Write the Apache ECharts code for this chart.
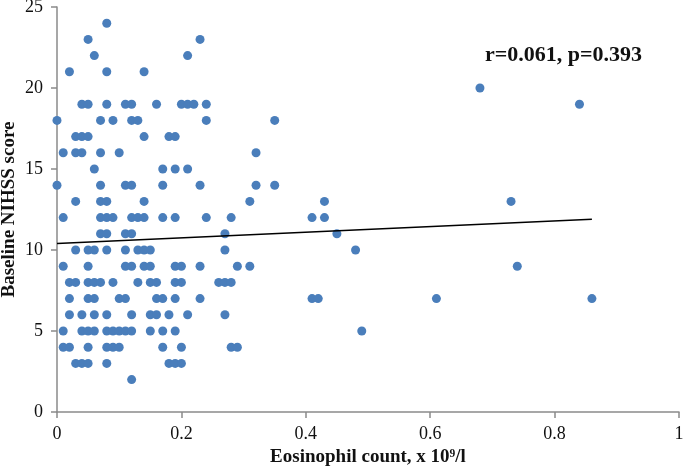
<!DOCTYPE html>
<html><head><meta charset="utf-8">
<script src="https://cdn.jsdelivr.net/npm/echarts@6/dist/echarts.min.js"></script>
<style>html,body{margin:0;padding:0;background:#fff}#c{width:685px;height:472px}</style>
</head><body><div id="c"></div>
<script>
// Eosinophil count (x) and Baseline NIHSS score (y), one entry per patient
const eosinophil = [
  0.08,
  0.05,0.23,
  0.06,0.21,
  0.02,0.08,0.14,
  0.68,
  0.04,0.05,0.08,0.11,0.12,0.16,0.20,0.21,0.22,0.24,0.84,
  0.00,0.07,0.09,0.12,0.13,0.24,0.35,
  0.03,0.04,0.05,0.14,0.18,0.19,
  0.01,0.03,0.04,0.07,0.10,0.32,
  0.06,0.17,0.19,0.21,
  0.00,0.07,0.11,0.12,0.17,0.23,0.32,0.35,
  0.03,0.07,0.08,0.14,0.31,0.43,0.73,
  0.01,0.07,0.08,0.09,0.12,0.13,0.14,0.17,0.19,0.24,0.28,0.41,0.43,
  0.07,0.08,0.11,0.12,0.27,0.45,
  0.03,0.05,0.06,0.08,0.11,0.13,0.14,0.15,0.27,0.48,
  0.01,0.05,0.11,0.12,0.14,0.15,0.19,0.20,0.23,0.29,0.31,0.74,
  0.02,0.03,0.05,0.06,0.07,0.09,0.13,0.15,0.16,0.19,0.20,0.26,0.27,0.28,
  0.02,0.05,0.06,0.10,0.11,0.16,0.17,0.19,0.23,0.41,0.42,0.61,0.86,
  0.02,0.04,0.06,0.08,0.12,0.15,0.16,0.18,0.21,0.27,
  0.01,0.04,0.05,0.06,0.08,0.09,0.10,0.11,0.12,0.15,0.17,0.19,0.49,
  0.01,0.02,0.05,0.08,0.09,0.10,0.17,0.20,0.28,0.29,
  0.03,0.04,0.05,0.08,0.18,0.19,0.20,
  0.12
];
const nihss = [
  24,
  23,23,
  22,22,
  21,21,21,
  20,
  19,19,19,19,19,19,19,19,19,19,19,
  18,18,18,18,18,18,18,
  17,17,17,17,17,17,
  16,16,16,16,16,16,
  15,15,15,15,
  14,14,14,14,14,14,14,14,
  13,13,13,13,13,13,13,
  12,12,12,12,12,12,12,12,12,12,12,12,12,
  11,11,11,11,11,11,
  10,10,10,10,10,10,10,10,10,10,
  9,9,9,9,9,9,9,9,9,9,9,9,
  8,8,8,8,8,8,8,8,8,8,8,8,8,8,
  7,7,7,7,7,7,7,7,7,7,7,7,7,
  6,6,6,6,6,6,6,6,6,6,
  5,5,5,5,5,5,5,5,5,5,5,5,5,
  4,4,4,4,4,4,4,4,4,4,
  3,3,3,3,3,3,3,
  2
];
// Linear trend line end points
const trendX = [0, 0.86];
const trendY = [10.4, 11.9];
const annotation = 'r=0.061, p=0.393';
const xTitle = 'Eosinophil count, x 10\u2079/l';
const yTitle = 'Baseline NIHSS score';

const serif = '"Liberation Serif","Times New Roman",serif';
const axisGray = '#8a8a8a';
const chart = echarts.init(document.getElementById('c'));
chart.setOption({
  animation: false,
  backgroundColor: '#fff',
  grid: { left: 57, right: 6, top: 7, bottom: 60, containLabel: false, outerBoundsMode: 'none' },
  xAxis: {
    type: 'value', min: 0, max: 1, interval: 0.2,
    name: xTitle, nameLocation: 'middle', nameGap: 36, nameMoveOverlap: false,
    nameTextStyle: { fontFamily: serif, fontWeight: 'bold', fontSize: 19, color: '#111' },
    axisLine: { show: true, lineStyle: { color: axisGray, width: 1.5 } },
    axisTick: { show: true, inside: false, length: 6, lineStyle: { color: axisGray, width: 1.5 } },
    axisLabel: { fontFamily: serif, fontSize: 18, color: '#111', margin: 13, formatter: v => String(+v.toFixed(1)) },
    splitLine: { show: false }
  },
  yAxis: {
    type: 'value', min: 0, max: 25, interval: 5,
    name: yTitle, nameLocation: 'middle', nameGap: 38, nameRotate: 90, nameMoveOverlap: false,
    nameTextStyle: { fontFamily: serif, fontWeight: 'bold', fontSize: 19, color: '#111' },
    axisLine: { show: true, lineStyle: { color: axisGray, width: 1.5 } },
    axisTick: { show: true, inside: false, length: 6, lineStyle: { color: axisGray, width: 1.5 } },
    axisLabel: { fontFamily: serif, fontSize: 18, color: '#111', margin: 14 },
    splitLine: { show: false }
  },
  graphic: [{
    type: 'text', left: 485, top: 44,
    style: { text: annotation, font: 'bold 22px ' + serif, fill: '#111' }
  }],
  series: [
    {
      type: 'scatter', symbol: 'circle', symbolSize: 9,
      itemStyle: { color: '#4a7ebb', opacity: 1 },
      data: eosinophil.map((x, i) => [x, nihss[i]]),
      z: 2
    },
    {
      type: 'line', showSymbol: false, symbol: 'none',
      lineStyle: { color: '#000', width: 1.5 },
      data: trendX.map((x, i) => [x, trendY[i]]),
      z: 3
    }
  ]
});
</script></body></html>
